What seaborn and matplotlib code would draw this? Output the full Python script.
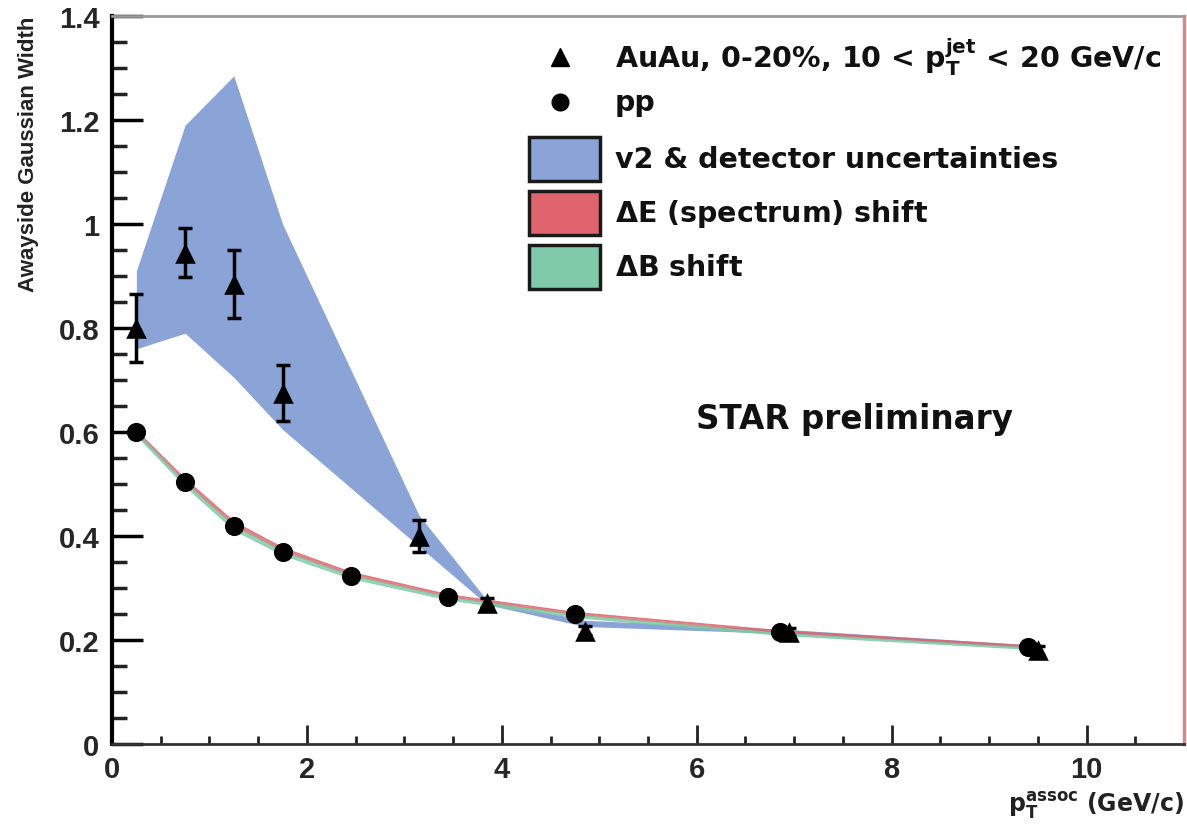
import numpy as np
import pandas as pd
import matplotlib
matplotlib.use("Agg")
import matplotlib.pyplot as plt
from matplotlib.patches import Rectangle
from matplotlib.ticker import MultipleLocator, FixedLocator, FixedFormatter
import seaborn as sns

# ---- data -------------------------------------------------------------
pt_auau = [0.25, 0.75, 1.25, 1.75, 3.15, 3.85, 4.85, 6.95, 9.5]
width_auau = [0.80, 0.945, 0.885, 0.675, 0.40, 0.272, 0.218, 0.215, 0.180]
err_auau = [0.065, 0.047, 0.065, 0.053, 0.030, 0.008, 0.008, 0.008, 0.008]

pt_pp = [0.25, 0.75, 1.25, 1.75, 2.45, 3.45, 4.75, 6.85, 9.4]
width_pp = [0.600, 0.503, 0.419, 0.370, 0.324, 0.283, 0.250, 0.215, 0.187]

# v2 & detector systematic band around AuAu
v2_band_hi = [0.91, 1.19, 1.285, 1.00, 0.44, 0.276, 0.238, 0.220, 0.190]
v2_band_lo = [0.76, 0.79, 0.705, 0.605, 0.38, 0.268, 0.226, 0.212, 0.184]

# Delta-E (spectrum) shift band around pp
dE_band_hi = [0.603, 0.510, 0.428, 0.378, 0.331, 0.288, 0.254, 0.219, 0.190]
dE_band_lo = [0.597, 0.503, 0.420, 0.371, 0.325, 0.283, 0.249, 0.214, 0.186]

# Delta-B shift band around pp
dB_band_hi = [0.600, 0.503, 0.420, 0.371, 0.325, 0.283, 0.249, 0.214, 0.186]
dB_band_lo = [0.594, 0.496, 0.412, 0.364, 0.319, 0.278, 0.244, 0.210, 0.183]

x_ticks = [0, 2, 4, 6, 8, 10]
x_tick_labels = ["0", "2", "4", "6", "8", "10"]
y_ticks = [0, 0.2, 0.4, 0.6, 0.8, 1.0, 1.2, 1.4]
y_tick_labels = ["0", "0.2", "0.4", "0.6", "0.8", "1", "1.2", "1.4"]

legend_labels = [
    r"AuAu, 0-20%, 10 < $\mathbf{p}_{\mathrm{T}}^{\mathrm{jet}}$ < 20 GeV/c",
    "pp",
    "v2 & detector uncertainties",
    r"$\Delta$E (spectrum) shift",
    r"$\Delta$B shift",
]

# ---- style ------------------------------------------------------------
sns.set_theme(style="ticks")
plt.rcParams["font.family"] = ["DejaVu Sans"]
plt.rcParams["mathtext.fontset"] = "custom"
plt.rcParams["mathtext.rm"] = "DejaVu Sans:bold"
plt.rcParams["mathtext.bf"] = "DejaVu Sans:bold"
plt.rcParams["mathtext.it"] = "DejaVu Sans:bold"

TICK_FONT = ["Liberation Sans", "DejaVu Sans"]
BLUE = "#8ba4d8"
RED = "#e0646c"
GREEN = "#7fcaa8"

W, H = 1187, 829
fig = plt.figure(figsize=(W / 100, H / 100), dpi=100)
ax_l, ax_r, ax_t, ax_b = 112, 1184, 17, 745
ax = fig.add_axes([ax_l / W, 1 - ax_b / H, (ax_r - ax_l) / W, (ax_b - ax_t) / H])
ax.set_facecolor("white")

# systematic bands
ax.fill_between(pt_auau, v2_band_lo, v2_band_hi, color=BLUE, lw=0, zorder=1)
ax.fill_between(pt_pp, dE_band_lo, dE_band_hi, color=RED, lw=0.8, edgecolor=RED, alpha=0.8, zorder=2)
ax.fill_between(pt_pp, dB_band_lo, dB_band_hi, color=GREEN, lw=0.8, edgecolor=GREEN, alpha=0.8, zorder=2)

# data points
df_auau = pd.DataFrame({"pt": pt_auau, "width": width_auau})
df_pp = pd.DataFrame({"pt": pt_pp, "width": width_pp})

ax.errorbar(pt_auau, width_auau, yerr=err_auau, fmt="none", ecolor="black",
            elinewidth=2.5, capsize=5, capthick=2.5, zorder=4)
sns.scatterplot(data=df_pp, x="pt", y="width", marker="o", s=190, color="black",
                edgecolor="black", linewidth=0, ax=ax, zorder=5)
sns.scatterplot(data=df_auau, x="pt", y="width", marker="^", s=220, color="black",
                edgecolor="black", linewidth=0, ax=ax, zorder=5)

# axes
ax.set_xlim(0, 11)
ax.set_ylim(0, 1.4)
ax.xaxis.set_major_locator(FixedLocator(x_ticks))
ax.xaxis.set_major_formatter(FixedFormatter(x_tick_labels))
ax.xaxis.set_minor_locator(MultipleLocator(0.5))
ax.yaxis.set_major_locator(FixedLocator(y_ticks))
ax.yaxis.set_major_formatter(FixedFormatter(y_tick_labels))
ax.yaxis.set_minor_locator(MultipleLocator(0.05))

ax.tick_params(axis="y", which="major", direction="in", length=22, width=2.5,
               color="black", labelsize=21, pad=9)
ax.tick_params(axis="y", which="minor", direction="in", length=11, width=2.5, color="#222222")
ax.tick_params(axis="x", which="major", direction="in", length=14, width=2, color="#222222",
               labelsize=21, pad=8)
ax.tick_params(axis="x", which="minor", direction="in", length=6, width=2, color="#222222")
for lab in ax.get_xticklabels() + ax.get_yticklabels():
    lab.set_fontweight("bold")
    lab.set_fontfamily(TICK_FONT)

ax.spines["left"].set_linewidth(3)
ax.spines["left"].set_color("black")
ax.spines["bottom"].set_linewidth(2)
ax.spines["bottom"].set_color("#333333")
ax.spines["top"].set_visible(True)
ax.spines["top"].set_color("#9a9a9a")
ax.spines["top"].set_linewidth(2)
ax.spines["right"].set_visible(True)
ax.spines["right"].set_color("#d88a8a")
ax.spines["right"].set_linewidth(2.5)

ax.set_ylabel("Awayside Gaussian Width", fontsize=16, fontweight="bold", loc="top",
              color="#222222", labelpad=14, family=TICK_FONT)
ax.set_xlabel(r"$\mathbf{p}_{\mathrm{T}}^{\mathrm{assoc}}$ (GeV/c)", fontsize=17,
              fontweight="bold", loc="right", color="#222222", labelpad=4)


def axfrac(px, py):
    """Pixel position (from top-left of the figure) to axes fraction."""
    return (px - ax_l) / (ax_r - ax_l), (ax_b - py) / (ax_b - ax_t)


# annotation
sx, sy = axfrac(855, 420)
ax.text(sx, sy, "STAR preliminary", transform=ax.transAxes, fontsize=23.5,
        fontweight="bold", ha="center", va="center", color="#111111")

# legend
text_x = axfrac(615, 0)[0]
rows_y = [57, 103, 160, 214, 268]
mx, _ = axfrac(560, 0)
ax.plot([mx], [axfrac(0, 58)[1]], marker="^", ms=13, color="black",
        transform=ax.transAxes, clip_on=False, zorder=6)
ax.plot([mx], [axfrac(0, 103)[1]], marker="o", ms=12, color="black",
        transform=ax.transAxes, clip_on=False, zorder=6)
for py, col in zip(rows_y[2:], [BLUE, RED, GREEN]):
    x0, y0 = axfrac(529, py + 22)
    x1, y1 = axfrac(600, py - 22)
    ax.add_patch(Rectangle((x0, y0), x1 - x0, y1 - y0, transform=ax.transAxes,
                           facecolor=col, edgecolor="#1a1a1a", lw=2.5, zorder=6))
for py, lab in zip(rows_y, legend_labels):
    ax.text(text_x, axfrac(0, py)[1], lab, transform=ax.transAxes, fontsize=20.5,
            fontweight="bold", ha="left", va="center", color="#111111")

fig.savefig("out.png", dpi=100, facecolor="white")
